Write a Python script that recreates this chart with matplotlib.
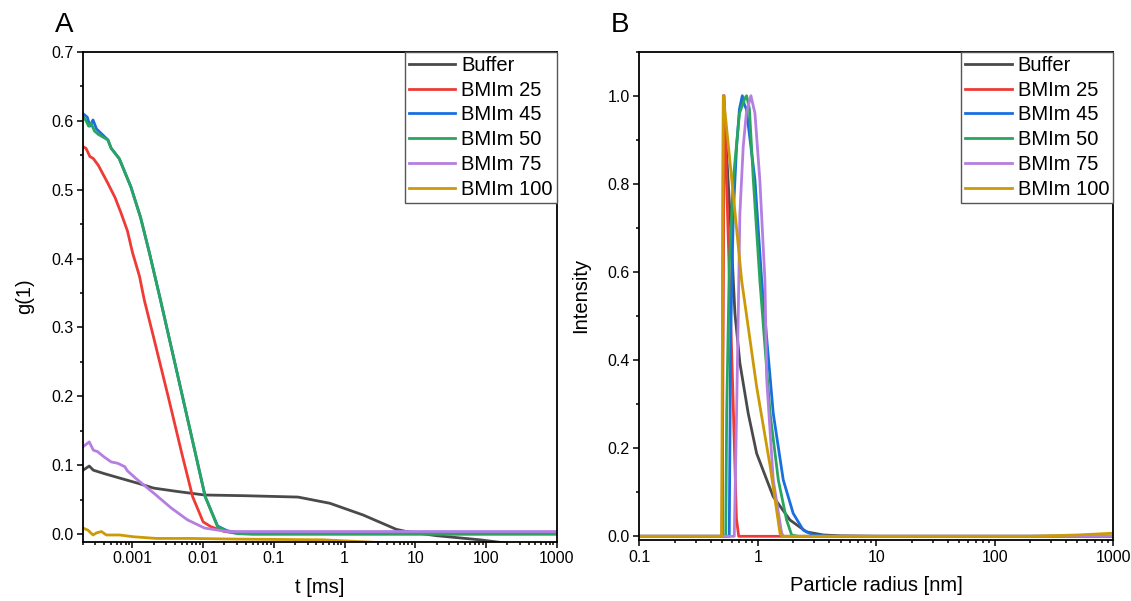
from __future__ import annotations

import matplotlib

matplotlib.use("Agg")
import matplotlib.pyplot as plt
from matplotlib.ticker import FuncFormatter, LogLocator, MultipleLocator

plt.rcParams["font.family"] = ["Liberation Sans", "DejaVu Sans"]

LABELS = ["Buffer", "BMIm 25", "BMIm 45", "BMIm 50", "BMIm 75", "BMIm 100"]
COLORS = ["#4a4a4a", "#ef3b36", "#1a6fdf", "#2aa55e", "#b47fe0", "#cc9a06"]

# --- panel A: correlation g(1) vs lag time t [ms] ---
t_buffer = [2e-4, 2.45e-4, 2.8e-4, 4e-4, 6.9e-4, 1.2e-3, 2.0e-3, 4.4e-3, 0.0105,
            0.038, 0.22, 0.62, 1.83, 5.4, 7.5, 20, 82, 200, 1000]
g_buffer = [0.093, 0.099, 0.093, 0.088, 0.081, 0.074, 0.067, 0.062, 0.057,
            0.056, 0.054, 0.045, 0.028, 0.0072, 0.004, -0.002, -0.008, -0.013, -0.02]

t_25 = [2e-4, 2.2e-4, 2.5e-4, 2.8e-4, 3.3e-4, 4.5e-4, 5.7e-4, 6.9e-4, 8.5e-4,
        1.0e-3, 1.26e-3, 1.47e-3, 2.0e-3, 3.2e-3, 5e-3, 7.1e-3, 0.01, 0.0129,
        0.02, 0.03, 1000]
g_25 = [0.562, 0.56, 0.548, 0.545, 0.535, 0.509, 0.488, 0.466, 0.44,
        0.409, 0.374, 0.340, 0.285, 0.200, 0.117, 0.0546, 0.018, 0.011,
        0.004, 0.002, 0.002]

t_45 = [2e-4, 2.3e-4, 2.5e-4, 2.77e-4, 3.1e-4, 4.5e-4, 5e-4, 6.5e-4, 9.5e-4,
        1.3e-3, 1.74e-3, 2.49e-3, 4.4e-3, 0.0107, 0.016, 0.022, 0.03, 0.05, 1000]
g_45 = [0.61, 0.605, 0.592, 0.601, 0.588, 0.572, 0.56, 0.545, 0.504,
        0.46, 0.408, 0.340, 0.229, 0.0546, 0.012, 0.005, 0.003, 0.003, 0.003]

t_50 = [2e-4, 2.2e-4, 2.4e-4, 2.6e-4, 2.9e-4, 3.3e-4, 4.5e-4, 5e-4, 6.5e-4,
        9.5e-4, 1.3e-3, 1.74e-3, 2.49e-3, 4.4e-3, 0.0107, 0.016, 0.022, 0.03,
        0.05, 1000]
g_50 = [0.606, 0.60, 0.592, 0.596, 0.585, 0.58, 0.572, 0.56, 0.545,
        0.504, 0.46, 0.408, 0.340, 0.229, 0.0546, 0.011, 0.004, 0.001,
        0.0, 0.0]

t_75 = [2e-4, 2.45e-4, 2.8e-4, 3.2e-4, 4e-4, 5e-4, 6.2e-4, 7.8e-4, 8.5e-4,
        1.12e-3, 2.04e-3, 3.55e-3, 6.0e-3, 0.0105, 0.022, 1000]
g_75 = [0.127, 0.134, 0.122, 0.120, 0.112, 0.105, 0.103, 0.098, 0.092,
        0.081, 0.059, 0.038, 0.021, 0.009, 0.004, 0.004]

t_100 = [2e-4, 2.35e-4, 2.77e-4, 3.1e-4, 3.64e-4, 4.28e-4, 6.6e-4, 1.02e-3,
         2.18e-3, 6.5e-3, 0.033, 0.5, 2, 5, 1000]
g_100 = [0.009, 0.006, -0.001, 0.002, 0.004, -0.001, -0.001, -0.0035,
         -0.006, -0.006, -0.007, -0.008, -0.011, -0.013, -0.015]

# --- panel B: intensity vs particle radius [nm] ---
r_buffer = [0.1, 0.50, 0.512, 0.582, 0.641, 0.706, 0.83, 0.978, 1.35, 1.87,
            2.58, 3.57, 5.0, 10, 1000]
i_buffer = [0, 0, 1.0, 0.733, 0.506, 0.393, 0.279, 0.188, 0.09, 0.037,
            0.010, 0.003, 0.001, 0, 0]

r_25 = [0.1, 0.50, 0.52, 0.574, 0.62, 0.66, 0.69, 1000]
i_25 = [0, 0, 1.0, 0.60, 0.30, 0.04, 0, 0]

r_45 = [0.1, 0.574, 0.59, 0.621, 0.662, 0.70, 0.74, 0.77, 0.80, 0.946, 1.078,
        1.35, 1.64, 1.99, 2.42, 2.94, 4.0, 1000]
i_45 = [0, 0, 0.45, 0.733, 0.884, 0.97, 1.0, 0.98, 0.97, 0.809, 0.582,
        0.279, 0.128, 0.052, 0.014, 0.003, 0, 0]

r_50 = [0.1, 0.536, 0.546, 0.575, 0.621, 0.70, 0.78, 0.805, 0.85, 0.916, 1.04,
        1.27, 1.49, 1.75, 1.93, 2.2, 1000]
i_50 = [0, 0, 0.28, 0.62, 0.81, 0.96, 0.995, 1.0, 0.97, 0.81, 0.582,
        0.279, 0.128, 0.037, 0.003, 0, 0]

r_75 = [0.1, 0.633, 0.662, 0.684, 0.706, 0.753, 0.80, 0.875, 0.946, 1.04,
        1.148, 1.19, 1.35, 1.59, 1.65, 1000]
i_75 = [0, 0, 0.279, 0.506, 0.733, 0.884, 0.96, 1.0, 0.96, 0.809,
        0.582, 0.355, 0.128, 0.007, 0, 0]

r_100 = [0.1, 0.495, 0.512, 0.608, 0.731, 0.977, 1.27, 1.54, 1.6,
         200, 500, 1000]
i_100 = [0, 0, 1.0, 0.80, 0.58, 0.34, 0.16, 0.007, 0,
         0, 0.003, 0.007]


def _style_axes(ax):
    for side in ("left", "bottom", "right", "top"):
        ax.spines[side].set_linewidth(1.3)
    ax.tick_params(which="both", direction="out", width=1.1, labelsize=11.5,
                   top=False, right=False, pad=3)
    ax.tick_params(which="major", length=4)
    ax.tick_params(which="minor", length=2.5)
    ax.xaxis.set_major_formatter(FuncFormatter(lambda v, _: f"{v:g}"))
    ax.xaxis.set_minor_locator(LogLocator(base=10, subs=range(2, 10)))


def _legend(ax):
    leg = ax.legend(loc="upper right", bbox_to_anchor=(1, 1), borderaxespad=0,
                    fontsize=14.5, handlelength=2.3, handletextpad=0.3,
                    labelspacing=0.29, borderpad=0.2, fancybox=False,
                    framealpha=1)
    leg.get_frame().set_edgecolor("#555555")
    leg.get_frame().set_linewidth(1.0)


def render_panel_a(ax):
    series = [(t_buffer, g_buffer), (t_25, g_25), (t_45, g_45),
              (t_50, g_50), (t_75, g_75), (t_100, g_100)]
    for (t, g), label, color in zip(series, LABELS, COLORS):
        ax.plot(t, g, color=color, lw=2.0, label=label)
    ax.set_xscale("log")
    ax.set_xlim(2e-4, 1000)
    ax.set_ylim(-0.0107, 0.7)
    ax.set_xticks([1e-3, 1e-2, 1e-1, 1, 10, 100, 1000])
    ax.yaxis.set_major_locator(MultipleLocator(0.1))
    ax.yaxis.set_minor_locator(MultipleLocator(0.05))
    ax.yaxis.set_major_formatter(FuncFormatter(lambda v, _: f"{v:.1f}"))
    _style_axes(ax)
    ax.set_xlabel("t [ms]", fontsize=14.5, labelpad=8)
    ax.set_ylabel("g(1)", fontsize=14.5, labelpad=12)
    _legend(ax)


def render_panel_b(ax):
    series = [(r_buffer, i_buffer), (r_25, i_25), (r_45, i_45),
              (r_50, i_50), (r_75, i_75), (r_100, i_100)]
    for (r, i), label, color in zip(series, LABELS, COLORS):
        ax.plot(r, i, color=color, lw=2.0, label=label)
    ax.set_xscale("log")
    ax.set_xlim(0.1, 1000)
    ax.set_ylim(-0.0084, 1.1)
    ax.set_xticks([0.1, 1, 10, 100, 1000])
    ax.yaxis.set_major_locator(MultipleLocator(0.2))
    ax.yaxis.set_minor_locator(MultipleLocator(0.1))
    ax.yaxis.set_major_formatter(FuncFormatter(lambda v, _: f"{v:.1f}"))
    _style_axes(ax)
    ax.set_xlabel("Particle radius [nm]", fontsize=14.5, labelpad=8)
    ax.set_ylabel("Intensity", fontsize=14.5, labelpad=12)
    _legend(ax)


def main() -> None:
    fig = plt.figure(figsize=(11.31, 6.01), dpi=100)
    ax_a = fig.add_axes([0.0734, 0.0987, 0.4188, 0.8153])
    ax_b = fig.add_axes([0.5653, 0.1015, 0.4189, 0.8125])
    render_panel_a(ax_a)
    render_panel_b(ax_b)
    fig.text(64 / 1131, 1 - 25 / 601, "A", fontsize=20, ha="center", va="center")
    fig.text(620 / 1131, 1 - 25 / 601, "B", fontsize=20, ha="center", va="center")
    fig.savefig("out.png", dpi=100)
    plt.close(fig)


if __name__ == "__main__":
    main()
